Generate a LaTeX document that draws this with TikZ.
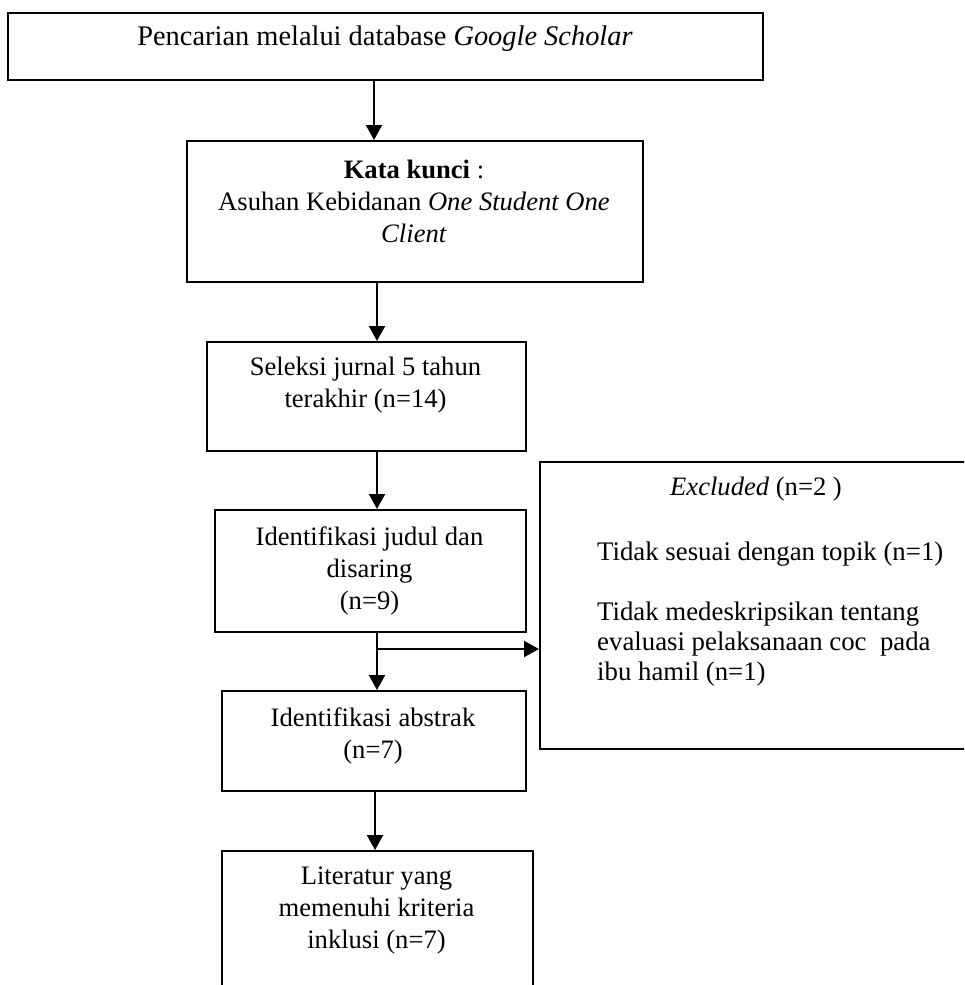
\documentclass[tikz,border=0pt]{standalone}
\usepackage{fontspec}
\setmainfont{Liberation Serif}
\usetikzlibrary{arrows.meta}
\begin{document}
\begin{tikzpicture}[x=1pt,y=-1pt,
  box/.style={draw, line width=1.6pt, rectangle, inner sep=0pt, anchor=north west},
  txt/.style={font=\fontsize{26.6}{32}\selectfont, align=center, inner sep=0pt},
  ltxt/.style={font=\fontsize{26.8}{30}\selectfont, align=left, inner sep=0pt},
  arr/.style={line width=2pt, -{Triangle[width=16pt,length=15pt]}}]
\useasboundingbox (0,0) rectangle (964,985);
\clip (0,0) rectangle (964,985);
% boxes
\node[box, minimum width=755pt, minimum height=67pt] (b1) at (7,12) {};
\node[box, minimum width=456pt, minimum height=141pt] (b2) at (186,140) {};
\node[box, minimum width=319pt, minimum height=109pt] (b3) at (206,341) {};
\node[box, minimum width=311pt, minimum height=122pt] (b4) at (214,509) {};
\node[box, minimum width=304pt, minimum height=100pt] (b5) at (221,690) {};
\node[box, minimum width=311pt, minimum height=170pt] (b6) at (221,850) {};
\node[box, minimum width=445pt, minimum height=287pt] (ex) at (539,461) {};
% texts
\node[txt, font=\fontsize{28.4}{32}\selectfont] (t1) at (385,39) {Pencarian melalui database \textit{Google Scholar}};
\node[txt] (t2) at (414,201) {\textbf{Kata kunci} :\\Asuhan Kebidanan \textit{One Student One}\\\textit{Client}};
\node[txt] (t3) at (365.5,385) {Seleksi jurnal 5 tahun\\terakhir (n=14)};
\node[txt] (t4) at (369.5,571) {Identifikasi judul dan\\disaring\\(n=9)};
\node[txt] (t5) at (373,736) {Identifikasi abstrak\\(n=7)};
\node[txt] (t6) at (376.5,911) {Literatur yang\\memenuhi kriteria\\inklusi (n=7)};
\node[txt] (t7) at (756,489) {\textit{Excluded} (n=2 )};
\node[ltxt, anchor=west] (t8) at (597,614) {Tidak sesuai dengan topik (n=1)\\[30pt]Tidak medeskripsikan tentang\\evaluasi pelaksanaan coc~ pada\\ibu hamil (n=1)};
% connectors
\coordinate (xa) at (374,0);
\coordinate (xb) at (377,0);
\coordinate (xc) at (375,0);
\coordinate (br) at (377,649);
\draw[arr] (b1.south -| xa) -- (b2.north -| xa);
\draw[arr] (b2.south -| xb) -- (b3.north -| xb);
\draw[arr] (b3.south -| xb) -- (b4.north -| xb);
\draw[arr] (b4.south -| xb) -- (b5.north -| xb);
\draw[arr] (br) -- (br -| ex.west);
\draw[arr] (b5.south -| xc) -- (b6.north -| xc);
\end{tikzpicture}
\end{document}
